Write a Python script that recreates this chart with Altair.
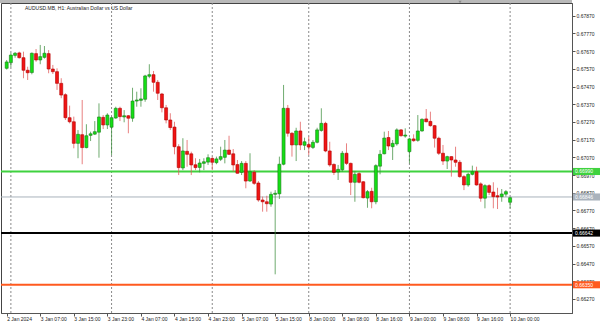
import altair as alt
import pandas as pd

# ---------------- data ----------------
opens = [
    0.67573, 0.67605, 0.67646, 0.67660, 0.67633, 0.67562, 0.67549, 0.67656, 0.67620, 0.67635,
    0.67656, 0.67569, 0.67554, 0.67488, 0.67424, 0.67294, 0.67271, 0.67149, 0.67198, 0.67125,
    0.67194, 0.67201, 0.67212, 0.67296, 0.67253, 0.67240, 0.67292, 0.67347, 0.67298, 0.67305,
    0.67291, 0.67388, 0.67392, 0.67398, 0.67528, 0.67537, 0.67494, 0.67428, 0.67350, 0.67281,
    0.67241, 0.67130, 0.67010, 0.67104, 0.67090, 0.67028, 0.67013, 0.67036, 0.67043, 0.67064,
    0.67040, 0.67059, 0.67070, 0.67111, 0.67090, 0.67029, 0.66985, 0.67036, 0.66936, 0.66986,
    0.66925, 0.66829, 0.66819, 0.66806, 0.66861, 0.66864, 0.67031, 0.67347, 0.67206, 0.67140,
    0.67219, 0.67138, 0.67142, 0.67126, 0.67155, 0.67222, 0.67262, 0.67106, 0.67030, 0.66987,
    0.67000, 0.67093, 0.67036, 0.66929, 0.66978, 0.66932, 0.66840, 0.66878, 0.66819, 0.67020,
    0.67090, 0.67182, 0.67130, 0.67146, 0.67225, 0.67190, 0.67102, 0.67174, 0.67166, 0.67219,
    0.67287, 0.67273, 0.67249, 0.67178, 0.67093, 0.67049, 0.67074, 0.67055, 0.67042, 0.66961,
    0.66914, 0.66974, 0.66989, 0.66920, 0.66839, 0.66910, 0.66874, 0.66853, 0.66848, 0.66862,
    0.66816,
]
highs = [
    0.67620, 0.67660, 0.67665, 0.67667, 0.67667, 0.67582, 0.67662, 0.67682, 0.67705, 0.67699,
    0.67676, 0.67592, 0.67573, 0.67517, 0.67432, 0.67362, 0.67300, 0.67224, 0.67394, 0.67257,
    0.67215, 0.67275, 0.67375, 0.67309, 0.67319, 0.67300, 0.67356, 0.67356, 0.67337, 0.67309,
    0.67463, 0.67441, 0.67460, 0.67536, 0.67596, 0.67558, 0.67507, 0.67434, 0.67366, 0.67319,
    0.67271, 0.67144, 0.67178, 0.67168, 0.67102, 0.67065, 0.67061, 0.67065, 0.67087, 0.67074,
    0.67074, 0.67130, 0.67168, 0.67192, 0.67117, 0.67055, 0.67049, 0.67049, 0.67093, 0.66998,
    0.66936, 0.66848, 0.66853, 0.66876, 0.66885, 0.67074, 0.67479, 0.67366, 0.67212, 0.67237,
    0.67271, 0.67181, 0.67187, 0.67168, 0.67237, 0.67347, 0.67271, 0.67158, 0.67036, 0.67027,
    0.67106, 0.67149, 0.67040, 0.66993, 0.66989, 0.66936, 0.66885, 0.66898, 0.67031, 0.67111,
    0.67215, 0.67219, 0.67168, 0.67234, 0.67230, 0.67234, 0.67181, 0.67200, 0.67309, 0.67290,
    0.67343, 0.67328, 0.67253, 0.67187, 0.67140, 0.67079, 0.67076, 0.67130, 0.67055, 0.66970,
    0.66983, 0.67023, 0.67017, 0.66929, 0.66918, 0.66918, 0.66929, 0.66898, 0.66891, 0.66885,
    0.66848,
]
lows = [
    0.67566, 0.67580, 0.67633, 0.67628, 0.67517, 0.67507, 0.67539, 0.67610, 0.67596, 0.67628,
    0.67545, 0.67541, 0.67451, 0.67404, 0.67281, 0.67262, 0.67121, 0.67065, 0.67031, 0.67121,
    0.67162, 0.67196, 0.67068, 0.67230, 0.67230, 0.67083, 0.67288, 0.67275, 0.67268, 0.67206,
    0.67271, 0.67356, 0.67356, 0.67384, 0.67517, 0.67441, 0.67394, 0.67324, 0.67262, 0.67224,
    0.67087, 0.66970, 0.66998, 0.67017, 0.66970, 0.66998, 0.66985, 0.66998, 0.67027, 0.66998,
    0.67031, 0.67049, 0.67036, 0.67083, 0.66989, 0.66978, 0.66970, 0.66895, 0.66932, 0.66914,
    0.66819, 0.66763, 0.66763, 0.66791, 0.66409, 0.66835, 0.67025, 0.67187, 0.67074, 0.67049,
    0.67111, 0.67111, 0.67083, 0.67117, 0.67149, 0.67215, 0.67099, 0.67017, 0.66970, 0.66942,
    0.66989, 0.67027, 0.66857, 0.66819, 0.66923, 0.66838, 0.66785, 0.66782, 0.66805, 0.66974,
    0.67087, 0.67111, 0.67055, 0.67136, 0.67187, 0.67181, 0.67036, 0.67158, 0.67158, 0.67215,
    0.67268, 0.67243, 0.67125, 0.67083, 0.67027, 0.67004, 0.66961, 0.67017, 0.66955, 0.66885,
    0.66904, 0.66968, 0.66910, 0.66819, 0.66782, 0.66857, 0.66782, 0.66778, 0.66819, 0.66848,
    0.66782,
]
closes = [
    0.67609, 0.67648, 0.67658, 0.67633, 0.67562, 0.67548, 0.67658, 0.67620, 0.67639, 0.67658,
    0.67569, 0.67554, 0.67488, 0.67422, 0.67294, 0.67271, 0.67149, 0.67200, 0.67125, 0.67192,
    0.67203, 0.67215, 0.67298, 0.67253, 0.67309, 0.67294, 0.67347, 0.67300, 0.67305, 0.67291,
    0.67388, 0.67394, 0.67400, 0.67530, 0.67537, 0.67494, 0.67432, 0.67350, 0.67281, 0.67238,
    0.67130, 0.67012, 0.67106, 0.67087, 0.67027, 0.67012, 0.67038, 0.67045, 0.67068, 0.67042,
    0.67061, 0.67074, 0.67111, 0.67087, 0.67027, 0.66980, 0.67036, 0.66936, 0.66989, 0.66923,
    0.66829, 0.66819, 0.66808, 0.66861, 0.66867, 0.67031, 0.67347, 0.67206, 0.67140, 0.67219,
    0.67140, 0.67158, 0.67128, 0.67155, 0.67225, 0.67262, 0.67106, 0.67027, 0.66985, 0.67002,
    0.67093, 0.67036, 0.66929, 0.66974, 0.66929, 0.66842, 0.66876, 0.66819, 0.67023, 0.67087,
    0.67179, 0.67134, 0.67149, 0.67225, 0.67192, 0.67196, 0.67174, 0.67164, 0.67219, 0.67285,
    0.67271, 0.67249, 0.67178, 0.67093, 0.67049, 0.67074, 0.67055, 0.67042, 0.66961, 0.66914,
    0.66974, 0.66989, 0.66914, 0.66839, 0.66910, 0.66872, 0.66848, 0.66846, 0.66863, 0.66876,
    0.66842,
]

time_tick_bars = [0, 8, 16, 24, 32, 40, 48, 56, 64, 72, 80, 88, 96, 104, 112, 120]
time_tick_labels = [
    "2 Jan 2024", "3 Jan 07:00", "3 Jan 15:00", "3 Jan 23:00", "4 Jan 07:00",
    "4 Jan 15:00", "4 Jan 23:00", "5 Jan 07:00", "5 Jan 15:00", "8 Jan 00:00",
    "8 Jan 08:00", "8 Jan 16:00", "9 Jan 00:00", "9 Jan 08:00", "9 Jan 16:00",
    "10 Jan 00:00",
]
day_separator_bars = [1, 25, 49, 72, 96, 120]
price_ticks = [0.67870, 0.67770, 0.67670, 0.67570, 0.67470, 0.67370, 0.67270, 0.67170,
               0.67070, 0.66970, 0.66870, 0.66770, 0.66670, 0.66570, 0.66470, 0.66370, 0.66270]

level_prices = [0.66990, 0.66846, 0.66642, 0.66350]
level_colors = ["#3fd23f", "#a9b2bc", "#000000", "#ff5a1f"]
level_widths = [2, 1, 2, 2]
level_text_colors = ["#ffffff", "#ffffff", "#ffffff", "#ffffff"]

title_text = "AUDUSD.MB, H1:  Australian Dollar vs US Dollar"

# ---------------- frames ----------------
bars = pd.DataFrame({"i": list(range(len(opens))), "o": opens, "h": highs, "l": lows, "c": closes})
seps = pd.DataFrame({"i": day_separator_bars})
levels = pd.DataFrame({"p": level_prices, "col": level_colors,
                       "w": level_widths, "tc": level_text_colors})
one = pd.DataFrame({"k": [0]})

FONT = "Liberation Sans"
label_expr = "[" + ",".join("'" + s + "'" for s in time_tick_labels) + "][round(datum.value / 8)]"

xscale = alt.Scale(domain=[-0.164, 133.56], nice=False, zero=False)
yscale = alt.Scale(domain=[0.661905, 0.67942], nice=False, zero=False)
xaxis = alt.Axis(values=time_tick_bars, labelExpr=label_expr, orient="bottom", title=None,
                 grid=False, tickSize=3, tickColor="#555555", domainColor="#555555",
                 labelAlign="left", labelBaseline="top", labelPadding=0,
                 labelFont=FONT, labelFontSize=5, labelColor="#222222",
                 labelOverlap=False, labelFlush=False)
yaxis = alt.Axis(values=price_ticks, format=".5f", orient="right", title=None, grid=False,
                 tickSize=3, tickColor="#555555", domainColor="#555555",
                 labelPadding=1, labelFont=FONT, labelFontSize=5, labelColor="#222222",
                 labelOverlap=False, labelFlush=False)


def X(f):
    return alt.X(f, scale=xscale, axis=xaxis)


def Y(f):
    return alt.Y(f, scale=yscale, axis=yaxis)


up = "datum.c >= datum.o"

separators = alt.Chart(seps).mark_rule(color="#8a8a8a", strokeDash=[2, 2], strokeWidth=1).encode(
    x=X("i:Q"))

level_lines = alt.Chart(levels).mark_rule().encode(
    y=Y("p:Q"),
    color=alt.Color("col:N", scale=None),
    strokeWidth=alt.StrokeWidth("w:Q", scale=None),
)

wicks = alt.Chart(bars).mark_rule(strokeWidth=1, opacity=0.75).encode(
    x=X("i:Q"), y=Y("l:Q"), y2="h:Q",
    color=alt.condition(up, alt.value("#3f8f3f"), alt.value("#e05555")),
)

bodies = alt.Chart(bars).mark_bar(size=3, strokeWidth=0.6).encode(
    x=X("i:Q"), y=Y("o:Q"), y2="c:Q",
    fill=alt.condition(up, alt.value("#14e014"), alt.value("#f01414")),
    stroke=alt.condition(up, alt.value("#1a7a1a"), alt.value("#b00000")),
)

level_boxes = alt.Chart(levels).transform_calculate(
    lo="datum.p - 0.0002", hi="datum.p + 0.0002"
).mark_rect().encode(
    x=alt.value(572), x2=alt.value(599),
    y=Y("lo:Q"), y2="hi:Q",
    color=alt.Color("col:N", scale=None),
)

level_labels = alt.Chart(levels).transform_calculate(
    t="format(datum.p, '.5f')"
).mark_text(align="left", baseline="middle", font=FONT, fontSize=5).encode(
    x=alt.value(574), y=Y("p:Q"), text="t:N",
    color=alt.Color("tc:N", scale=None),
)

top_bar = alt.Chart(one).mark_rect(color="#b9b9b9").encode(
    x=alt.value(-1), x2=alt.value(571), y=alt.value(-3), y2=alt.value(0))

shift_mark = alt.Chart(one).mark_point(shape="triangle-down", filled=True, size=10, color="#777777").encode(
    x=alt.value(459), y=alt.value(-1))

title = alt.Chart(one).mark_text(align="left", baseline="middle", font=FONT, fontSize=5,
                                 color="#222222").encode(
    x=alt.value(24), y=alt.value(5), text=alt.value(title_text))

chart = alt.layer(
    separators, level_lines, wicks, bodies, level_boxes, level_labels, top_bar, shift_mark, title
).properties(
    width=571, height=310,
    autosize=alt.AutoSizeParams(type="none"),
    padding={"left": 1, "top": 3, "right": 28, "bottom": 11},
    background="#ffffff",
).configure_view(stroke="#444444", strokeWidth=1)

chart.save("out.html", embed_options={"renderer": "svg", "actions": False})
